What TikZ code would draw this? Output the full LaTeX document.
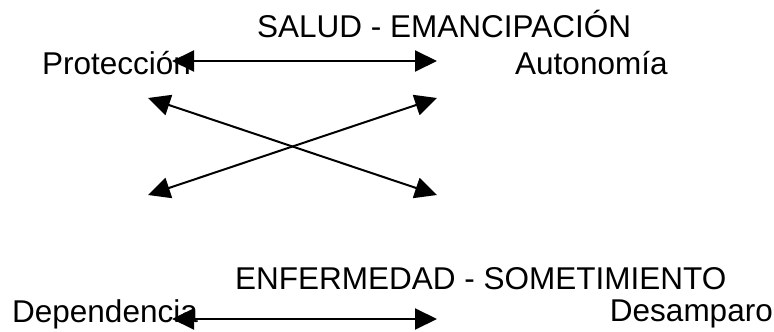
\documentclass[tikz,border=0pt]{standalone}
\usepackage{fontspec}
\setmainfont{Liberation Sans}
\usetikzlibrary{arrows.meta}
\begin{document}
\begin{tikzpicture}[x=1pt,y=-1pt,
  lbl/.style={inner sep=0pt,anchor=base west,font=\fontsize{31.5}{38}\selectfont},
  link/.style={line width=2pt,{Triangle[length=22pt,width=21pt]}-{Triangle[length=22pt,width=21pt]}}]
\useasboundingbox (0,0) rectangle (774,332);

% upper pair
\node[lbl] (salud) at (257,37) {SALUD - EMANCIPACIÓN};
\node[lbl] (prot) at (42,74) {Protección};
\node[lbl] (auto) at (515,74) {Autonomía};

% lower pair
\node[lbl] (enf) at (235,289) {ENFERMEDAD - SOMETIMIENTO};
\node[lbl] (dep) at (12,322) {Dependencia};
\node[lbl,anchor=base east] (des) at (773,321) {Desamparo};

% arrow ends
\coordinate (tl) at (172,61);
\coordinate (tr) at (437,61);
\coordinate (ul) at (148,98);
\coordinate (ur) at (437,98);
\coordinate (ll) at (148,195);
\coordinate (lr) at (437,195);
\coordinate (bl) at (172,319);
\coordinate (br) at (437,319);

\draw[link] (tl) -- (tr);
\draw[link] (ul) -- (lr);
\draw[link] (ll) -- (ur);
\draw[link] (bl) -- (br);
\end{tikzpicture}
\end{document}
